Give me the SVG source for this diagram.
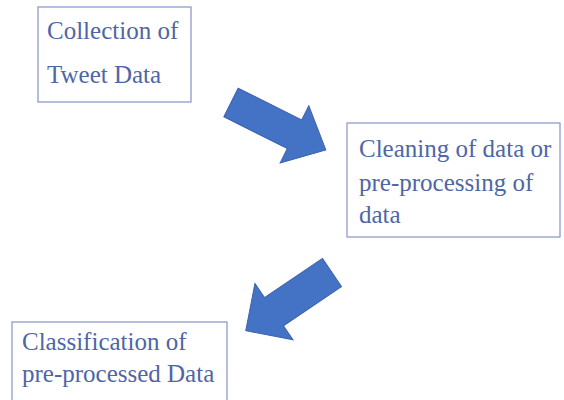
<svg xmlns="http://www.w3.org/2000/svg" width="564" height="400" viewBox="0 0 564 400">
<defs>
<style>
.box{fill:#ffffff;stroke:#8e9dcb;stroke-width:1.3}
.t{font-family:"Liberation Serif","Times New Roman",serif;font-size:25px;fill:#4e66a6}
.arr{fill:#4472c4;stroke:#3a62ae;stroke-width:1}
</style>
</defs>
<rect width="564" height="400" fill="#ffffff"/>
<g id="node-collection">
<rect class="box" x="38" y="7" width="153" height="95"/>
<text class="t" x="47" y="39">Collection of</text>
<text class="t" x="47" y="83">Tweet Data</text>
</g>
<g id="node-cleaning">
<rect class="box" x="347" y="123" width="213" height="114"/>
<text class="t" x="359" y="157">Cleaning of data or</text>
<text class="t" x="359" y="191">pre-processing of</text>
<text class="t" x="359" y="223">data</text>
</g>
<g id="node-classification">
<rect class="box" x="12" y="322" width="215" height="90"/>
<text class="t" x="22" y="350">Classification of</text>
<text class="t" x="22" y="382">pre-processed Data</text>
</g>
<g id="connectors">
<polygon class="arr" transform="translate(231,102.5) rotate(26.57)" points="0,-16 71,-16 71,-32 106,0 71,32 71,16 0,16"/>
<polygon class="arr" transform="translate(332,272.5) rotate(146)" points="0,-17 70,-17 70,-34 104,0 70,34 70,17 0,17"/>
</g>
</svg>
